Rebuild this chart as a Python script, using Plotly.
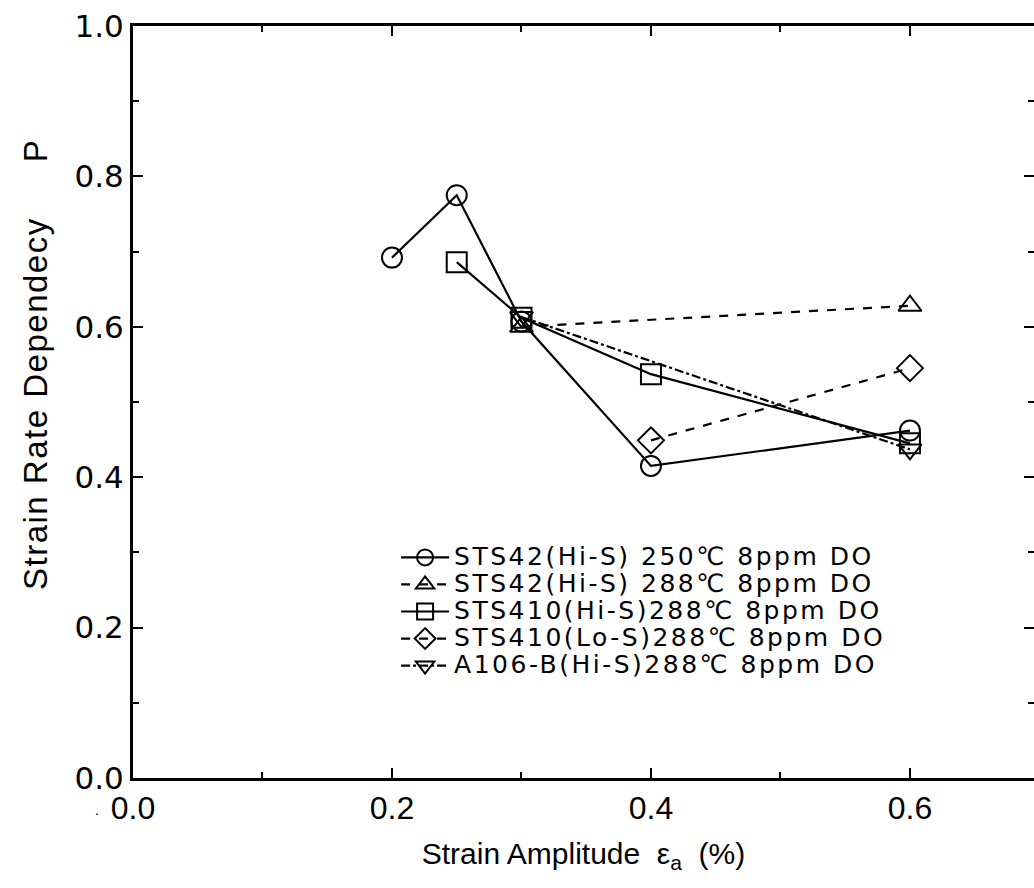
import plotly.graph_objects as go

# Data
x_sts42_250 = [0.2, 0.25, 0.3, 0.4, 0.6]
y_sts42_250 = [0.692, 0.775, 0.607, 0.415, 0.462]

x_sts42_288 = [0.3, 0.6]
y_sts42_288 = [0.600, 0.628]

x_sts410_hi = [0.25, 0.3, 0.4, 0.6]
y_sts410_hi = [0.686, 0.612, 0.537, 0.445]

x_sts410_lo = [0.4, 0.6]
y_sts410_lo = [0.449, 0.545]

x_a106 = [0.3, 0.6]
y_a106 = [0.613, 0.437]

names = [
    "STS42(Hi-S) 250\u2103 8ppm DO",
    "STS42(Hi-S) 288\u2103 8ppm DO",
    "STS410(Hi-S)288\u2103 8ppm DO",
    "STS410(Lo-S)288\u2103 8ppm DO",
    "A106-B(Hi-S)288\u2103 8ppm DO",
]

x_ticks = [0.0, 0.2, 0.4, 0.6]
x_tick_labels = ["0.0", "0.2", "0.4", "0.6"]
y_ticks = [0.0, 0.2, 0.4, 0.6, 0.8, 1.0]
y_tick_labels = ["0.0", "0.2", "0.4", "0.6", "0.8", "1.0"]

series = [
    (x_sts42_250, y_sts42_250, names[0], "circle-open", "solid"),
    (x_sts42_288, y_sts42_288, names[1], "triangle-up-open", "dash"),
    (x_sts410_hi, y_sts410_hi, names[2], "square-open", "solid"),
    (x_sts410_lo, y_sts410_lo, names[3], "diamond-open", "dash"),
    (x_a106, y_a106, names[4], "triangle-down-open", "dashdot"),
]

fig = go.Figure()
for xs, ys, nm, sym, dash in series:
    fig.add_trace(go.Scatter(
        x=xs, y=ys, mode="lines+markers",
        name='<span style="font-size:25px;letter-spacing:2.5px">' + nm + '</span>',
        line=dict(color="black", width=2.2, dash=dash),
        marker=dict(symbol=sym, size=20, color="black", line=dict(width=2, color="black")),
    ))

# invisible trace on right axis for mirrored ticks
fig.add_trace(go.Scatter(x=[0], y=[0], yaxis="y2", showlegend=False,
                         mode="markers", marker=dict(opacity=0), hoverinfo="skip"))

XR = [0, 0.6958]
T, B = 26, 110
fig.update_layout(
    width=1034, height=888,
    margin=dict(l=133, r=0, t=T, b=B),
    paper_bgcolor="white", plot_bgcolor="white",
    showlegend=True,
    legend=dict(x=0.292, y=0.318, xanchor="left", yanchor="top",
                font=dict(family="DejaVu Sans, sans-serif", size=18.5, color="black"),
                bgcolor="rgba(0,0,0,0)", borderwidth=0, itemwidth=48, tracegroupgap=0),
    xaxis=dict(range=XR, tickvals=x_ticks, ticktext=x_tick_labels,
               ticks="inside", ticklen=10, tickwidth=2, tickcolor="black",
               minor=dict(dtick=0.1, ticks="inside", ticklen=6, tickwidth=2, tickcolor="black"),
               showline=True, linewidth=3, linecolor="black", mirror="ticks",
               showgrid=False, zeroline=False,
               tickfont=dict(family="Liberation Sans, sans-serif", size=32, color="black"),
               title=dict(text="Strain Amplitude  \u03b5<sub>a</sub>  (%)",
                          font=dict(family="Liberation Sans, sans-serif", size=30, color="black"),
                          standoff=18)),
    yaxis=dict(range=[0, 1.0], tickvals=y_ticks, ticktext=y_tick_labels,
               ticks="inside", ticklen=10, tickwidth=2, tickcolor="black",
               minor=dict(dtick=0.1, ticks="inside", ticklen=6, tickwidth=2, tickcolor="black"),
               showline=True, linewidth=3, linecolor="black", mirror=False,
               showgrid=False, zeroline=False,
               tickfont=dict(family="DejaVu Sans, sans-serif", size=31, color="black")),
    yaxis2=dict(range=[0, 1.0], overlaying="y", side="right", tickvals=y_ticks,
                showticklabels=False, ticks="inside", ticklen=10, tickwidth=2, tickcolor="black",
                minor=dict(dtick=0.1, ticks="inside", ticklen=6, tickwidth=2, tickcolor="black"),
                showline=False, showgrid=False, zeroline=False),
    annotations=[
        dict(
            text='<span style="letter-spacing:1.5px">Strain Rate Dependecy</span>' + "\u00a0" * 6 + "P",
            textangle=-90, xref="paper", yref="paper",
            x=(35 - 133) / 901, y=(888 - B - 365) / (888 - B - T),
            xanchor="center", yanchor="middle", showarrow=False,
            font=dict(family="Liberation Sans, sans-serif", size=33, color="black"),
        ),
        dict(
            text=".", xref="paper", yref="paper",
            x=(97 - 133) / 901, y=(888 - B - 800) / (888 - B - T),
            xanchor="center", yanchor="top", showarrow=False,
            font=dict(family="Liberation Sans, sans-serif", size=14, color="black"),
        ),
    ],
)

fig.write_html("out.html")
